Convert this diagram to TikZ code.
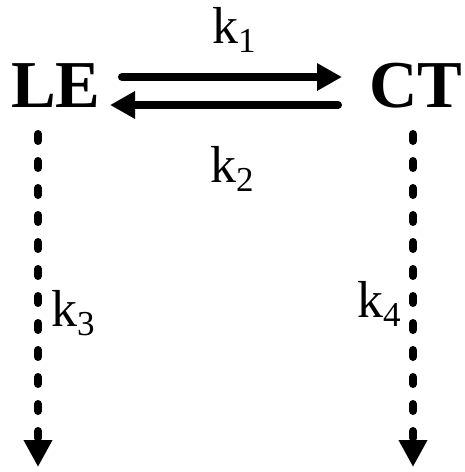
\documentclass[tikz,border=0pt]{standalone}
\usepackage{fontspec}
\setmainfont{Liberation Serif}
\usetikzlibrary{arrows.meta}
\newcommand{\ksub}[1]{k\raisebox{-9pt}{\fontsize{35}{35}\selectfont #1}}
\tikzset{
  species/.style={anchor=base, inner sep=0pt, font=\fontsize{67}{67}\selectfont\bfseries},
  rate/.style={anchor=base west, inner sep=0pt, font=\fontsize{52}{52}\selectfont},
  solidarrow/.style={line width=8pt, line cap=round, -{Triangle[length=25pt,width=26pt]}},
  dasharrow/.style={line width=8pt, line cap=round, dash pattern=on 7pt off 20pt, -{Triangle[length=27pt,width=27pt]}}
}
\begin{document}
\begin{tikzpicture}[x=1pt,y=-1pt]
\useasboundingbox (0,0) rectangle (464,472);
\node[species] (LE) at (56,107) {LE};
\node[species] (CT) at (416,107) {CT};
\coordinate (a1s) at (122,77);
\coordinate (a1e) at (342,77);
\coordinate (a2s) at (338,105);
\coordinate (a2e) at (110,105);
\coordinate (d1s) at (38,134);
\coordinate (d1e) at (38,467);
\coordinate (d2s) at (413,134);
\coordinate (d2e) at (413,467);
\draw[solidarrow] (a1s) -- (a1e);
\draw[solidarrow] (a2s) -- (a2e);
\draw[dasharrow] (d1s) -- (d1e);
\draw[dasharrow] (d2s) -- (d2e);
\node[rate] (k1) at (212,43) {\ksub{1}};
\node[rate] (k2) at (210,182) {\ksub{2}};
\node[rate] (k3) at (51,326) {\ksub{3}};
\node[rate] (k4) at (357,317) {\ksub{4}};
\end{tikzpicture}
\end{document}
